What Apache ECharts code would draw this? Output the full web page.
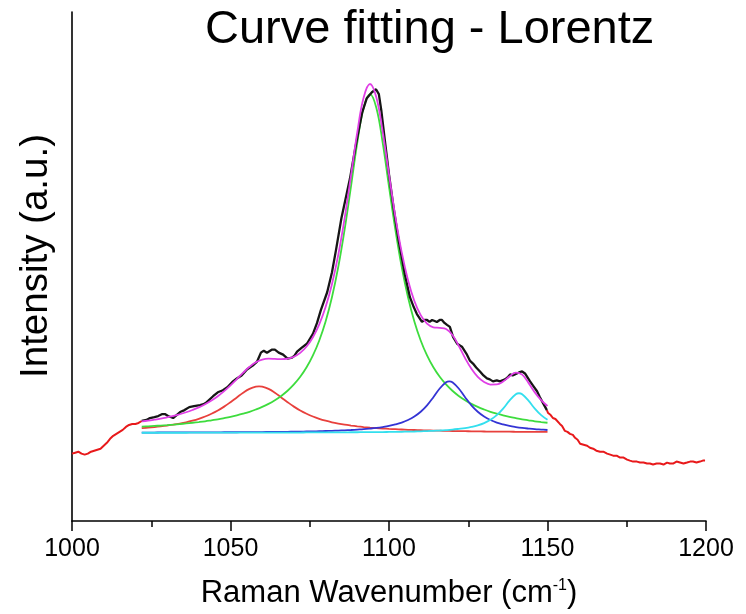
<!DOCTYPE html>
<html>
<head>
<meta charset="utf-8">
<script src="https://cdn.jsdelivr.net/npm/echarts@6/dist/echarts.min.js"></script>
<style>html,body{margin:0;padding:0;background:#fff;}#chart{width:746px;height:614px;}</style>
</head>
<body>
<div id="chart"></div>
<script>
// Raw spectrum outside the fitting window (red)
const rawLeftX = [1000,1001,1002,1003,1004,1005,1006,1007,1008,1009,1010,1011,1012,1013,1014,1015,1016,1017,1018,1019,1020,1021,1022];
const rawLeftY = [64,65,66,64,63,64,66,67,68,69,72,75,79,82,84,86,88,91,93,94,94,95,97];
const rawRightX = [1149.8,1150.2,1151,1151.7,1152.5,1153.9,1154.6,1155.5,1156.3,1157.1,1158,1158.7,1159.5,1160.3,1161.4,1162.5,1163.4,1164.4,1165.4,1166.6,1167.6,1168.8,1169.8,1170.7,1171.8,1172.9,1174,1175.1,1176,1177,1178.2,1179.2,1180.3,1181.4,1182.3,1183.3,1184.4,1185.5,1186.6,1187.7,1188.6,1189.6,1190.7,1191.8,1192.9,1194,1195,1195.9,1197,1198.1,1199,1199.7];
const rawRightY = [108,105,103,100,99,94,92,87,86,84,83,80,78,74,73,72,70,69,67,66,66,64,63,62,62,60,60,58,57,56,56,55,55,54,54,53,54,54,53,55,54,54,56,55,54,55,56,56,55,56,57,57];

// Measured spectrum inside the fitting window (black)
const dataX = [1022,1023.5,1024.6,1026,1027.2,1028.5,1029.3,1030.3,1031.9,1033,1034.1,1035.5,1037,1038.5,1040.4,1041.5,1042.5,1044.5,1046,1047.6,1049,1050.8,1052,1053.5,1055.2,1057,1058.4,1059.6,1060.5,1061.5,1063,1064,1065.2,1066.6,1068,1069.4,1070.2,1071,1072.5,1074.1,1076,1077.3,1078.5,1080.5,1082,1083.3,1085,1087.7,1089.5,1091.5,1093,1094.6,1095.9,1096.8,1097.6,1098.7,1100,1101.6,1103,1105,1106.6,1107.8,1108.8,1110.4,1111.2,1112,1112.8,1113.6,1114.4,1115.1,1116,1116.7,1117.5,1118.3,1119.2,1120.2,1121.5,1123,1124.6,1125.5,1126.5,1127.5,1128.7,1129.8,1130.9,1131.8,1132.8,1134,1135,1136.6,1137.4,1138.2,1139,1139.7,1141,1142,1142.9,1143.7,1144.5,1145.6,1146.7,1147.6,1148.6,1149.8];
const dataY = [97,98,100,101,102,104,104,102,100,103,106,108,111,112,113,114,116,122,126,128,131,137,140,143,149,153,157,166,168,166,169,169,166,164,160,161,163,167,171,175,185,196,209,227,247,270,302,342,375,408,423,429,432,427,410,380,346,309,280,245,222,212,205,197,199,199,197,199,198,197,199,199,196,194,192,182,175,172,164,158,155,151,147,143,140,139,137,138,137,139,141,144,143,144,146,147,145,141,137,132,127,121,115,108];

// Fit curves sampled on the fitting window
const fitX = [1022,1024,1026,1028,1030,1032,1034,1036,1038,1040,1042,1044,1046,1048,1050,1052,1054,1056,1058,1060,1062,1064,1066,1068,1070,1072,1074,1076,1078,1080,1082,1084,1086,1088,1090,1092,1094,1096,1098,1100,1102,1104,1106,1108,1110,1112,1114,1116,1118,1120,1122,1124,1126,1128,1130,1132,1134,1136,1138,1140,1142,1144,1146,1148,1150];
const fitSum = [96.5,97.3,98.3,99.4,100.7,102.1,103.8,105.8,108.1,110.7,113.9,117.6,122.0,127.1,132.9,139.3,145.8,151.7,156.3,159.0,159.9,159.7,159.4,159.9,161.9,165.8,172.2,181.6,194.6,212.0,235.1,264.7,301.6,344.5,388.6,423.6,437.3,423.9,389.3,345.7,303.4,267.5,239.2,218.2,203.9,195.3,191.6,191.0,189.8,183.8,172.9,160.5,149.7,141.6,136.4,133.8,133.9,136.9,141.9,145.8,143.8,135.5,125.9,118.0,112.1];
const peak1059X = [1022,1024,1026,1028,1030,1032,1034,1036,1038,1040,1042,1044,1046,1048,1050,1052,1054,1056,1058,1059,1060,1062,1064,1066,1068,1070,1072,1074,1076,1078,1080,1082,1084,1086,1088,1090,1092,1094,1096,1098,1100,1102,1104,1106,1108,1110,1112,1114,1116,1118,1120,1122,1124,1126,1128,1130,1132,1134,1136,1138,1140,1142,1144,1146,1148,1150];
const peak1059 = [89.8,90.3,90.9,91.6,92.4,93.3,94.4,95.7,97.3,99.2,101.5,104.3,107.6,111.5,116.0,120.8,125.5,129.4,131.7,132.0,131.7,129.4,125.5,120.8,116.0,111.5,107.6,104.3,101.5,99.2,97.3,95.7,94.4,93.3,92.4,91.6,90.9,90.3,89.8,89.4,89.0,88.7,88.4,88.1,87.9,87.7,87.5,87.3,87.2,87.0,86.9,86.8,86.7,86.6,86.5,86.4,86.3,86.3,86.2,86.2,86.1,86.0,86.0,85.9,85.9,85.9];
const peak1094X = fitX;
const peak1094 = [91.2,91.6,92.0,92.4,92.8,93.3,93.9,94.5,95.2,95.9,96.7,97.7,98.7,99.9,101.2,102.7,104.4,106.3,108.6,111.2,114.3,118.0,122.3,127.5,133.9,141.6,151.2,163.2,178.3,197.5,221.9,252.6,290.3,333.7,378.2,413.3,427.0,413.3,378.2,333.7,290.3,252.6,221.9,197.5,178.3,163.2,151.2,141.6,133.9,127.5,122.3,118.0,114.3,111.2,108.6,106.3,104.4,102.7,101.2,99.9,98.7,97.7,96.7,95.9,95.2];
const peak1119X = [1022,1024,1026,1028,1030,1032,1034,1036,1038,1040,1042,1044,1046,1048,1050,1052,1054,1056,1058,1060,1062,1064,1066,1068,1070,1072,1074,1076,1078,1080,1082,1084,1086,1088,1090,1092,1094,1096,1098,1100,1102,1104,1106,1108,1110,1112,1114,1116,1118,1119,1120,1122,1124,1126,1128,1130,1132,1134,1136,1138,1140,1142,1144,1146,1148,1150];
const peak1119 = [85.3,85.3,85.3,85.4,85.4,85.4,85.4,85.4,85.4,85.5,85.5,85.5,85.5,85.6,85.6,85.6,85.7,85.7,85.8,85.8,85.9,86.0,86.0,86.1,86.2,86.3,86.4,86.5,86.7,86.9,87.1,87.3,87.6,87.9,88.3,88.7,89.3,90.0,90.9,92.0,93.5,95.4,98.0,101.5,106.3,112.8,121.0,129.8,136.1,137.0,136.1,129.8,121.0,112.8,106.3,101.5,98.0,95.4,93.5,92.0,90.9,90.0,89.3,88.7,88.3,87.9];
const peak1141X = [1022,1024,1026,1028,1030,1032,1034,1036,1038,1040,1042,1044,1046,1048,1050,1052,1054,1056,1058,1060,1062,1064,1066,1068,1070,1072,1074,1076,1078,1080,1082,1084,1086,1088,1090,1092,1094,1096,1098,1100,1102,1104,1106,1108,1110,1112,1114,1116,1118,1120,1122,1124,1126,1128,1130,1132,1134,1136,1138,1140,1141,1142,1144,1146,1148,1150];
const peak1141 = [85.1,85.1,85.1,85.1,85.1,85.1,85.1,85.1,85.2,85.2,85.2,85.2,85.2,85.2,85.2,85.2,85.2,85.2,85.2,85.2,85.3,85.3,85.3,85.3,85.3,85.3,85.4,85.4,85.4,85.4,85.5,85.5,85.5,85.6,85.6,85.7,85.7,85.8,85.8,85.9,86.0,86.1,86.3,86.4,86.6,86.8,87.1,87.4,87.8,88.3,89.0,89.8,91.0,92.6,94.9,98.2,102.9,109.5,117.6,124.0,125.0,124.0,117.6,109.5,102.9,98.2];

const xTicks = [1000,1050,1100,1150,1200];

const pair = (xs, ys) => xs.map((x, i) => [x, ys[i]]);
const FONT = 'Liberation Sans, Arial, Helvetica, sans-serif';

function line(name, xs, ys, color, width, smooth, z) {
  return {
    name, type: 'line', data: pair(xs, ys), showSymbol: false, symbol: 'none',
    smooth: smooth, z: z, lineStyle: { color: color, width: width }, itemStyle: { color: color }
  };
}

const chart = echarts.init(document.getElementById('chart'), null, { renderer: 'canvas' });
chart.setOption({
  animation: false,
  backgroundColor: '#ffffff',
  title: {
    text: 'Curve fitting - Lorentz', left: 200, top: 2,
    textStyle: { fontFamily: FONT, fontSize: 47, fontWeight: 'normal', color: '#000' }
  },
  graphic: [{
    type: 'text', x: 36, y: 256, rotation: Math.PI / 2,
    style: { text: 'Intensity (a.u.)', fontFamily: FONT, fontSize: 38.5, fill: '#000', align: 'center', verticalAlign: 'middle' }
  }],
  grid: { left: 72, right: 40, top: 12, bottom: 88 },
  xAxis: {
    type: 'value', min: xTicks[0], max: xTicks[xTicks.length - 1], interval: 50,
    name: 'Raman Wavenumber (cm{sup|-1})', nameLocation: 'middle', nameGap: 57,
    nameTextStyle: {
      fontFamily: FONT, fontSize: 31, color: '#000',
      rich: { sup: { fontFamily: FONT, fontSize: 16, color: '#000', verticalAlign: 'top', padding: [0, 0, 13, 0] } }
    },
    axisLine: { onZero: false, lineStyle: { color: '#000', width: 1.6 } },
    axisTick: { show: true, inside: false, length: 10, lineStyle: { color: '#000', width: 1.5 } },
    minorTick: { show: true, splitNumber: 2, length: 6, lineStyle: { color: '#000', width: 1.5 } },
    splitLine: { show: false },
    axisLabel: { margin: 16, fontFamily: FONT, fontSize: 25, color: '#000', formatter: v => String(v) }
  },
  yAxis: {
    type: 'value', min: -4, max: 510,
    axisLine: { show: true, onZero: false, lineStyle: { color: '#000', width: 1.6 } },
    axisTick: { show: false }, axisLabel: { show: false }, splitLine: { show: false }
  },
  series: [
    line('Raw', rawLeftX, rawLeftY, '#e8191b', 2, false, 1),
    line('Raw ', rawRightX, rawRightY, '#e8191b', 2, false, 1),
    line('Peak 1059', peak1059X, peak1059, '#e8403c', 1.8, 0.4, 2),
    line('Peak 1094', peak1094X, peak1094, '#3ddc3d', 1.8, 0.4, 3),
    line('Peak 1119', peak1119X, peak1119, '#3434d4', 1.8, 0.4, 4),
    line('Peak 1141', peak1141X, peak1141, '#33dfee', 1.8, 0.4, 5),
    line('Data', dataX, dataY, '#161616', 2.3, false, 6),
    line('Fit', fitX, fitSum, '#e03fe6', 1.8, 0.4, 7)
  ]
});
</script>
</body>
</html>
